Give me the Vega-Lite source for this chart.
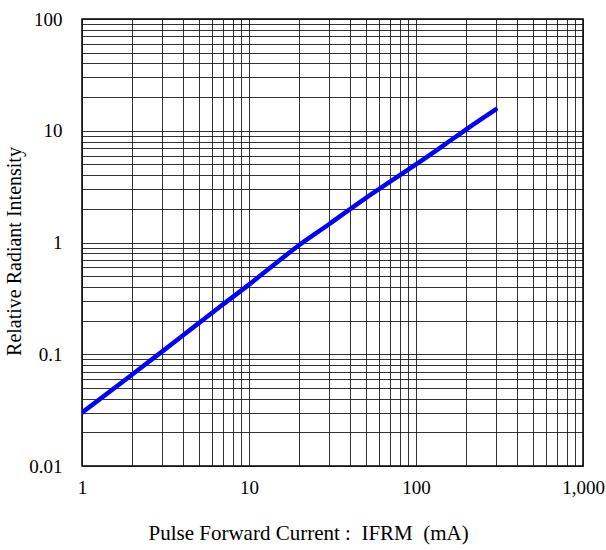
{
  "$schema": "https://vega.github.io/schema/vega-lite/v6.json",
  "autosize": "none",
  "width": 501,
  "height": 447,
  "padding": {"left": 82, "top": 19, "right": 23, "bottom": 84},
  "background": "white",
  "config": {
    "font": "Liberation Serif, Times New Roman, serif",
    "view": {"stroke": "black", "strokeWidth": 1.5},
    "axis": {
      "labelFont": "Liberation Serif, Times New Roman, serif",
      "titleFont": "Liberation Serif, Times New Roman, serif",
      "labelColor": "black",
      "titleColor": "black",
      "titleFontWeight": "normal",
      "labelFontSize": 19,
      "titleFontSize": 20,
      "ticks": false,
      "domain": false,
      "gridColor": "#111111",
      "gridOpacity": 0.85,
      "gridWidth": 1
    }
  },
  "data": {
    "values": [
      {"current": 1, "intensity": 0.03},
      {"current": 2, "intensity": 0.066},
      {"current": 3, "intensity": 0.105},
      {"current": 5, "intensity": 0.19},
      {"current": 7, "intensity": 0.28},
      {"current": 10, "intensity": 0.42},
      {"current": 15, "intensity": 0.68},
      {"current": 20, "intensity": 0.95},
      {"current": 30, "intensity": 1.45},
      {"current": 50, "intensity": 2.5},
      {"current": 70, "intensity": 3.5},
      {"current": 100, "intensity": 5.0},
      {"current": 150, "intensity": 7.6},
      {"current": 200, "intensity": 10.3},
      {"current": 300, "intensity": 15.5}
    ]
  },
  "mark": {"type": "line", "color": "#0000ff", "strokeWidth": 4.5, "strokeCap": "round", "interpolate": "monotone", "clip": true},
  "encoding": {
    "x": {
      "field": "current",
      "type": "quantitative",
      "scale": {"type": "log", "domain": [1, 1000], "nice": false},
      "axis": {
        "title": "Pulse Forward Current :\u00a0\u00a0IFRM\u00a0\u00a0(mA)",
        "titleFontSize": 21,
        "values": [1,2,3,4,5,6,7,8,9,10,20,30,40,50,60,70,80,90,100,200,300,400,500,600,700,800,900,1000],
        "labelExpr": "abs(log(datum.value)/LN10 - round(log(datum.value)/LN10)) < 1e-6 ? format(datum.value, ',') : ''",
        "labelPadding": 12,
        "labelFlush": false,
        "labelOverlap": false,
        "titlePadding": 25,
        "titleAnchor": "start",
        "titleX": 66,
        "titleAlign": "left"
      }
    },
    "y": {
      "field": "intensity",
      "type": "quantitative",
      "scale": {"type": "log", "domain": [0.01, 100], "nice": false},
      "axis": {
        "title": "Relative Radiant Intensity",
        "values": [0.01,0.02,0.03,0.04,0.05,0.06,0.07,0.08,0.09,0.1,0.2,0.3,0.4,0.5,0.6,0.7,0.8,0.9,1,2,3,4,5,6,7,8,9,10,20,30,40,50,60,70,80,90,100],
        "labelExpr": "abs(log(datum.value)/LN10 - round(log(datum.value)/LN10)) < 1e-6 ? format(datum.value, '~g') : ''",
        "labelPadding": 20,
        "labelFlush": false,
        "labelOverlap": false,
        "titlePadding": 4,
        "titleY": 232
      }
    }
  }
}
